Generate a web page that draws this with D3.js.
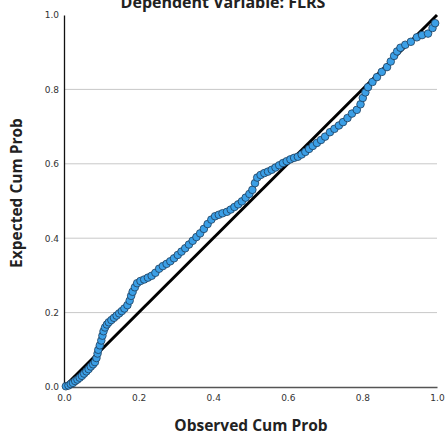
<!DOCTYPE html>
<html>
<head>
<meta charset="utf-8">
<script src="https://d3js.org/d3.v7.min.js"></script>
<style>
  body { margin: 0; background: #fff; }
  #chart-area { width: 446px; height: 438px; }
</style>
</head>
<body>
<div id="chart-area"></div>
<script>

// Observed vs expected cumulative probability
let observed = [0.005,0.012,0.018,0.024,0.030,0.036,0.042,0.048,0.054,0.060,0.066,0.072,0.078,0.083,0.087,0.090,0.092,0.096,0.100,0.103,
	0.106,0.110,0.115,0.120,0.127,0.134,0.141,0.148,0.155,0.162,0.170,0.176,0.180,0.184,0.190,0.196,0.205,0.215,0.225,0.235,
	0.245,0.255,0.265,0.275,0.285,0.295,0.305,0.315,0.325,0.335,0.345,0.355,0.365,0.375,0.385,0.395,0.405,0.415,0.425,0.437,
	0.447,0.457,0.467,0.477,0.487,0.497,0.505,0.512,0.518,0.527,0.537,0.547,0.557,0.567,0.577,0.587,0.597,0.607,0.617,0.627,
	0.637,0.647,0.657,0.667,0.678,0.689,0.700,0.713,0.725,0.737,0.748,0.760,0.772,0.785,0.795,0.801,0.808,0.815,0.827,0.839,
	0.852,0.866,0.876,0.885,0.893,0.902,0.915,0.930,0.946,0.960,0.976,0.988,0.995];

let expected = [0.002,0.004,0.008,0.011,0.016,0.020,0.025,0.030,0.036,0.042,0.048,0.055,0.061,0.067,0.078,0.090,0.100,0.112,0.125,0.138,
	0.150,0.160,0.168,0.174,0.180,0.186,0.192,0.198,0.204,0.211,0.220,0.232,0.245,0.256,0.268,0.279,0.285,0.289,0.294,0.299,
	0.307,0.318,0.325,0.331,0.338,0.346,0.355,0.364,0.373,0.383,0.393,0.403,0.413,0.425,0.438,0.450,0.459,0.463,0.467,0.471,
	0.477,0.484,0.491,0.499,0.509,0.519,0.530,0.548,0.563,0.570,0.575,0.579,0.584,0.590,0.596,0.602,0.607,0.612,0.616,0.619,
	0.625,0.632,0.640,0.648,0.656,0.664,0.673,0.685,0.694,0.703,0.712,0.723,0.735,0.745,0.760,0.777,0.792,0.806,0.820,0.833,
	0.847,0.860,0.875,0.890,0.902,0.912,0.920,0.928,0.940,0.946,0.950,0.965,0.978];

let tickValues = [0.0, 0.2, 0.4, 0.6, 0.8, 1.0];
let gridValues = [0.2, 0.4, 0.6, 0.8];

class PPPlot {

	constructor(parentElement, xs, ys) {
		this.parentElement = parentElement;
		this.data = xs.map((x, i) => ({observed: x, expected: ys[i]}));
	}

	initVis() {
		let vis = this;

		vis.margin = {top: 15, right: 9, bottom: 51, left: 64};
		vis.width = 446 - vis.margin.left - vis.margin.right;
		vis.height = 438 - vis.margin.top - vis.margin.bottom;

		vis.root = d3.select("#" + vis.parentElement).append("svg")
			.attr("width", 446)
			.attr("height", 438);

		vis.svg = vis.root.append("g")
			.attr("transform", "translate(" + vis.margin.left + "," + vis.margin.top + ")");

		vis.x = d3.scaleLinear().domain([0, 1]).range([0, vis.width]);
		vis.y = d3.scaleLinear().domain([0, 1]).range([vis.height, 0]);

		// Gridlines
		vis.svg.selectAll(".grid")
			.data(gridValues)
			.enter().append("line")
			.attr("class", "grid")
			.attr("x1", 0)
			.attr("x2", vis.width)
			.attr("y1", d => vis.y(d))
			.attr("y2", d => vis.y(d))
			.attr("stroke", "#c8c8c8")
			.attr("stroke-width", 1);

		// Axes (no tick marks, labels only)
		vis.xAxis = d3.axisBottom(vis.x)
			.tickValues(tickValues)
			.tickFormat(d3.format(".1f"))
			.tickSize(0)
			.tickPadding(8);

		vis.yAxis = d3.axisLeft(vis.y)
			.tickValues(tickValues)
			.tickFormat(d3.format(".1f"))
			.tickSize(0)
			.tickPadding(5);

		let gx = vis.svg.append("g")
			.attr("class", "x-axis axis")
			.attr("transform", "translate(0," + vis.height + ")")
			.call(vis.xAxis);
		gx.select(".domain").attr("stroke", "#555").attr("stroke-width", 1.3);

		let gy = vis.svg.append("g")
			.attr("class", "y-axis axis")
			.call(vis.yAxis);
		gy.select(".domain").attr("stroke", "#111").attr("stroke-width", 1.3);

		vis.svg.selectAll(".axis")
			.attr("font-family", "DejaVu Sans, sans-serif")
			.attr("font-size", 9);
		vis.svg.selectAll(".axis text")
			.attr("fill", "#333");

		// Diagonal reference line
		vis.svg.append("line")
			.attr("x1", vis.x(0)).attr("y1", vis.y(0))
			.attr("x2", vis.x(1)).attr("y2", vis.y(1))
			.attr("stroke", "#000")
			.attr("stroke-width", 3);

		// Titles
		vis.root.append("text")
			.attr("x", 223).attr("y", 8)
			.attr("text-anchor", "middle")
			.attr("font-family", "Open Sans, sans-serif")
			.attr("font-weight", "bold")
			.attr("font-size", "16px")
			.attr("fill", "#222")
			.text("Dependent Variable: FLRS");

		vis.root.append("text")
			.attr("x", 251).attr("y", 431)
			.attr("text-anchor", "middle")
			.attr("font-family", "Open Sans, sans-serif")
			.attr("font-weight", "bold")
			.attr("font-size", "15.5px")
			.attr("fill", "#222")
			.text("Observed Cum Prob");

		vis.root.append("text")
			.attr("transform", "translate(22,193) rotate(-90)")
			.attr("text-anchor", "middle")
			.attr("font-family", "Open Sans, sans-serif")
			.attr("font-weight", "bold")
			.attr("font-size", "15.5px")
			.attr("fill", "#222")
			.text("Expected Cum Prob");

		vis.updateVis();
	}

	updateVis() {
		let vis = this;

		let points = vis.svg.selectAll(".point")
			.data(vis.data);

		points.enter().append("circle")
			.attr("class", "point")
			.merge(points)
			.attr("cx", d => vis.x(d.observed))
			.attr("cy", d => vis.y(d.expected))
			.attr("r", 3.8)
			.attr("fill", "#3b9fe6")
			.attr("stroke", "#1d3c5a")
			.attr("stroke-width", 0.8);

		points.exit().remove();
	}
}

let plot = new PPPlot("chart-area", observed, expected);
plot.initVis();

</script>
</body>
</html>
